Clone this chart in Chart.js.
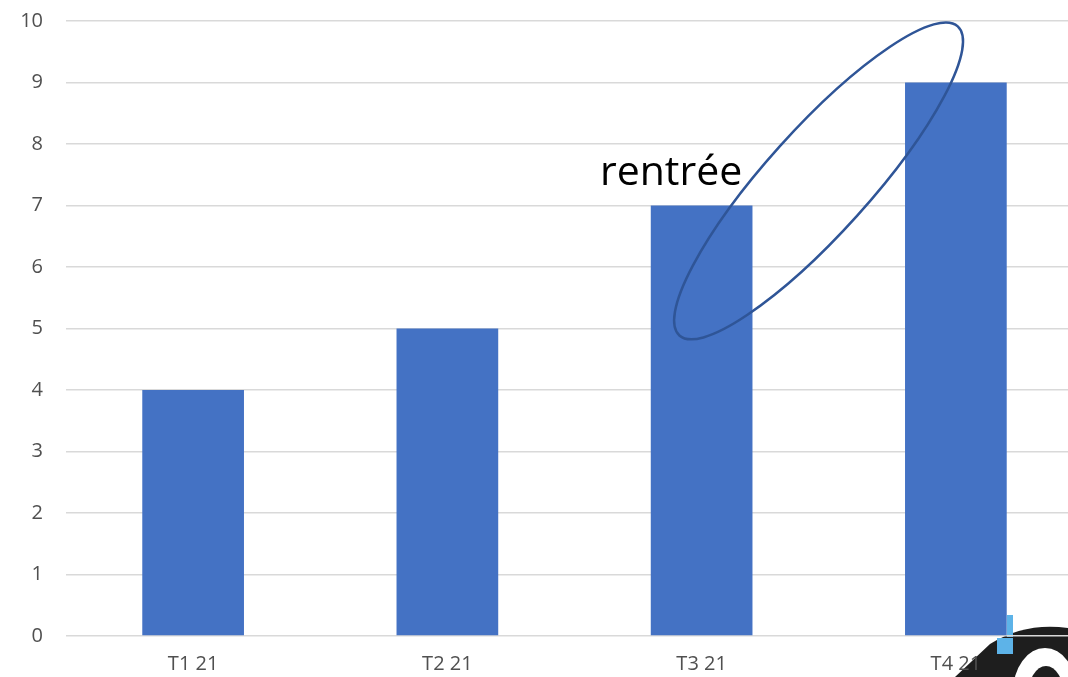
<!DOCTYPE html>
<html>
<head>
<meta charset="utf-8">
<script src="https://cdn.jsdelivr.net/npm/chart.js@4/dist/chart.umd.min.js"></script>
<style>
  html, body { margin: 0; padding: 0; background: #fff; overflow: hidden; }
  #wrap { width: 1084px; height: 677px; }
</style>
</head>
<body>
<div id="wrap"><canvas id="chart" width="1084" height="677"></canvas></div>
<script>
// Data
const quarters = ['T1 21', 'T2 21', 'T3 21', 'T4 21'];
const counts = [4, 5, 7, 9];
const yTicks = [0, 1, 2, 3, 4, 5, 6, 7, 8, 9, 10];

// Annotation (in data units: category index / y value)
const noteText = 'rentrée';
const notePos = { x: 1.88, y: 7.33 };
const ringPos = { x: 2.46, y: 7.4 };

// Text + ellipse drawn on top of the bars
const annotate = {
  id: 'annotate',
  afterDatasetsDraw(chart) {
    const { ctx, scales: { x, y } } = chart;
    ctx.save();
    ctx.fillStyle = '#000';
    ctx.font = '41px "Open Sans"';
    ctx.textAlign = 'center';
    ctx.textBaseline = 'alphabetic';
    ctx.fillText(noteText, x.getPixelForValue(notePos.x), y.getPixelForValue(notePos.y));

    ctx.strokeStyle = '#2F5597';
    ctx.lineWidth = 2.5;
    ctx.beginPath();
    ctx.ellipse(x.getPixelForValue(ringPos.x), y.getPixelForValue(ringPos.y),
      208, 52, -48 * Math.PI / 180, 0, Math.PI * 2);
    ctx.stroke();
    ctx.restore();
  }
};

// Cut-off logo fragment in the bottom right corner
const cornerLogo = {
  id: 'cornerLogo',
  beforeDraw(chart) {
    const ctx = chart.ctx;
    ctx.save();
    ctx.fillStyle = '#1e1e1e';
    ctx.beginPath();
    ctx.moveTo(955, 677);
    ctx.lineTo(990, 644);
    ctx.quadraticCurveTo(1025, 622, 1068, 628);
    ctx.lineTo(1084, 677);
    ctx.closePath();
    ctx.fill();
    ctx.fillStyle = '#fff';
    ctx.beginPath();
    ctx.ellipse(1045, 692, 32, 44, 0, 0, Math.PI * 2);
    ctx.fill();
    ctx.fillStyle = '#1e1e1e';
    ctx.beginPath();
    ctx.ellipse(1046, 696, 18, 30, 0, 0, Math.PI * 2);
    ctx.fill();
    ctx.fillStyle = '#5DB3E8';
    ctx.fillRect(1007, 615, 6, 22);
    ctx.fillRect(997, 638, 16, 16);
    ctx.restore();
  }
};

new Chart(document.getElementById('chart'), {
  type: 'bar',
  data: {
    labels: quarters,
    datasets: [{
      data: counts,
      backgroundColor: '#4472C4',
      barPercentage: 0.5,
      categoryPercentage: 0.8
    }]
  },
  options: {
    responsive: false,
    animation: false,
    layout: { autoPadding: false, padding: { top: 21, right: 1, left: 0, bottom: 0 } },
    plugins: { legend: { display: false }, tooltip: { enabled: false } },
    scales: {
      x: {
        grid: { display: false, drawTicks: false },
        border: { display: false },
        ticks: { color: '#505050', font: { family: 'Open Sans', size: 20 }, padding: 16 },
        afterFit: s => { s.height = 41; }
      },
      y: {
        min: 0,
        max: 10,
        afterBuildTicks: s => { s.ticks = yTicks.map(v => ({ value: v })); },
        grid: { color: '#d9d9d9', lineWidth: 1.5, drawTicks: false },
        border: { display: false },
        ticks: { color: '#505050', font: { family: 'Open Sans', size: 20 }, padding: 23 },
        afterFit: s => { s.width = 66; s.paddingTop = 0; s.paddingBottom = 0; }
      }
    }
  },
  plugins: [cornerLogo, annotate]
});
</script>
</body>
</html>
